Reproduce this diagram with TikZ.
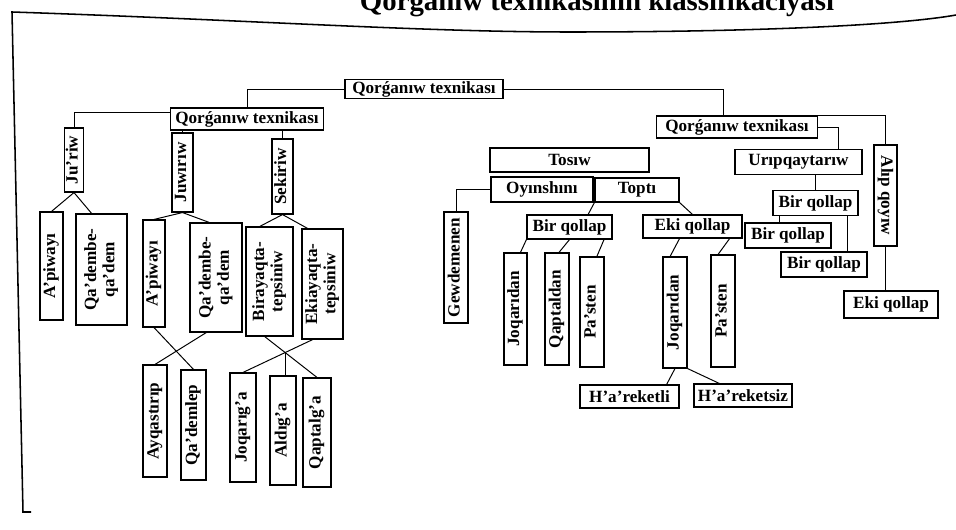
\documentclass[tikz,border=0pt]{standalone}
\usepackage{fontspec}
\setmainfont{Liberation Serif}
\usetikzlibrary{intersections}

\newcommand{\vt}[1]{\rotatebox{90}{\begin{tabular}{@{}c@{}}#1\end{tabular}}}
\newcommand{\vtr}[1]{\rotatebox{-90}{#1}}

\begin{document}
\begin{tikzpicture}[x=0.025cm, y=-0.025cm,
	box/.style 2 args={draw, line width=0.8pt, inner sep=0pt, minimum width=#1*0.025cm, minimum height=#2*0.025cm},
	link/.style={line width=0.7pt},
	pageline/.style={line width=1.1pt}]
	\tikzstyle{every node}=[font=\fontsize{12.2pt}{13pt}\selectfont\bfseries]
	
	\useasboundingbox (0,0) rectangle (956,530);
	\clip (0,0) rectangle (956,530);
	
	\node[font=\fontsize{20.5pt}{24pt}\selectfont\bfseries, anchor=base] (title) at (597,11) {Qorǵanıw texnikasınıń klassifikaciyası};
	\draw[pageline] (956,15) .. controls (900,25) and (760,32) .. (570,32) .. controls (420,32) and (250,20) .. (12,12) -- (23,512) -- (31,512);
	
	% upper level
	\node[box={158}{19}] (root) at (424,89) {Qorǵanıw texnikası};
	\node[box={153}{22}] (subL) at (247,119) {Qorǵanıw texnikası};
	\node[box={161}{22}] (subR) at (737,127) {Qorǵanıw texnikası};
	
	% left branch
	\node[box={19}{64}] (juriw) at (74,160) {\vt{Ju'riw}};
	\node[box={23}{108}] (apiwA) at (51.5,266) {\vt{A'piwayı}};
	\node[box={51}{111}] (qademA) at (101.5,269.5) {\vt{Qa'dembe-\\qa'dem}};
	\node[box={21}{79}] (juwiriw) at (182.5,172.5) {\vt{Juwırıw}};
	\node[box={22}{107}] (apiwB) at (154,273.5) {\vt{A'piwayı}};
	\node[box={52}{109}] (qademB) at (216,277.5) {\vt{Qa'dembe-\\qa'dem}};
	\node[box={21}{75}] (sekiriw) at (282.5,176.5) {\vt{Sekiriw}};
	\node[box={47}{109}] (biray) at (269.5,281.5) {\vt{Birayaqta-\\tepsiniw}};
	\node[box={41}{110}] (ekiay) at (322.5,284) {\vt{Ekiayaqta-\\tepsiniw}};
	\node[box={24}{112}] (ayqas) at (155,421) {\vt{Ayqastırıp}};
	\node[box={25}{110}] (qademlep) at (193.5,425) {\vt{Qa'demlep}};
	\node[box={26}{109}] (joqarig) at (243,427.5) {\vt{Joqarıg'a}};
	\node[box={26}{109}] (aldig) at (283,430.5) {\vt{Aldıg'a}};
	\node[box={28}{109}] (qaptalg) at (317,432.5) {\vt{Qaptalg'a}};
	
	% middle branch
	\node[box={159}{24}] (tosiw) at (569.5,160) {Tosıw};
	\node[box={102}{25}] (oyin) at (542,189.5) {Oyınshını};
	\node[box={84}{24}] (topti) at (637,190) {Toptı};
	\node[box={24}{111}] (gewd) at (456,267.5) {\vt{Gewdemenen}};
	\node[box={85}{24}] (birM) at (569.5,227) {Bir qollap};
	\node[box={99}{23}] (ekiM) at (692.5,226.5) {Eki qollap};
	\node[box={23}{112}] (joqA) at (515.5,309) {\vt{Joqarıdan}};
	\node[box={24}{112}] (qaptal) at (557,309) {\vt{Qaptaldan}};
	\node[box={24}{110}] (pastA) at (592,312) {\vt{Pa'sten}};
	\node[box={24}{111}] (joqB) at (675,312.5) {\vt{Joqarıdan}};
	\node[box={24}{112}] (pastB) at (723,311) {\vt{Pa'sten}};
	\node[box={99}{23}] (harl) at (629.5,396.5) {H'a'reketli};
	\node[box={98}{23}] (hars) at (743,395.5) {H'a'reketsiz};
	
	% right branch
	\node[box={127}{25}] (urip) at (798.5,162) {Urıpqaytarıw};
	\node[box={85}{25}] (birR) at (815.5,203) {Bir qollap};
	\node[box={86}{25}] (birRa) at (788,235.5) {Bir qollap};
	\node[box={86}{25}] (birRb) at (824,264.5) {Bir qollap};
	\node[box={23}{101}] (alip) at (885.5,195.5) {\vtr{Alıp qoyıw}};
	\node[box={94}{27}] (ekiR) at (891,304.5) {Eki qollap};
	
	\draw[link] (root.west) -| (subL.north);
	\draw[link] (root.east) -| ([xshift=-0.35cm]subR.north);
	\draw[link] (subL.175) -| (juriw.north);
	\draw[link] (juwiriw.north) -- (juwiriw.north |- subL.south);
	\draw[link] (sekiriw.north) -- (sekiriw.north |- subL.south);
	\draw[link] (juriw.south) -- (apiwA.north);
	\draw[link] (juriw.south) -- (qademA.100);
	\draw[link] (juwiriw.south) -- (apiwB.north);
	\draw[link] (juwiriw.south) -- (qademB.97);
	\draw[link] (sekiriw.south) -- (biray.100);
	\draw[link] (sekiriw.south) -- (ekiay.105);
	\draw[link] (apiwB.south) -- (qademlep.north);
	\draw[link] (qademB.260) -- (ayqas.north);
	\draw[link, name path=lnA] (biray.265) -- (qaptalg.north);
	\draw[link, name path=lnB] (ekiay.260) -- (joqarig.north);
	\path[name intersections={of=lnA and lnB, by=xing}];
	\draw[link] (xing) -- (xing |- aldig.north);
	
	\draw[link] (oyin.west) -| (gewd.north);
	\draw[link] (topti.south west) -- (birM.34);
	\draw[link] (topti.south east) -- (ekiM.north);
	\draw[link] (birM.south west) -- (joqA.85);
	\draw[link] (birM.south) -- (qaptal.88);
	\draw[link] (birM.-20) -- (pastA.85);
	\draw[link] (ekiM.223) -- (joqB.95);
	\draw[link] (ekiM.-18) -- (pastB.95);
	\draw[link] (joqB.south) -- (harl.18);
	\draw[link] (joqB.south east) -- (hars.153);
	
	\draw[link] (subR.east) -| (urip.18);
	\draw[link] (subR.north east) -| (alip.north);
	\draw[link] (birR.north) -- (birR.north |- urip.south);
	\draw[link] (birR.200) -- (birR.200 |- birRa.north);
	\draw[link] (birR.-22) -- (birR.-22 |- birRb.north);
	\draw[link] (alip.south) -- (alip.south |- ekiR.north);
	
\end{tikzpicture}
\end{document}
